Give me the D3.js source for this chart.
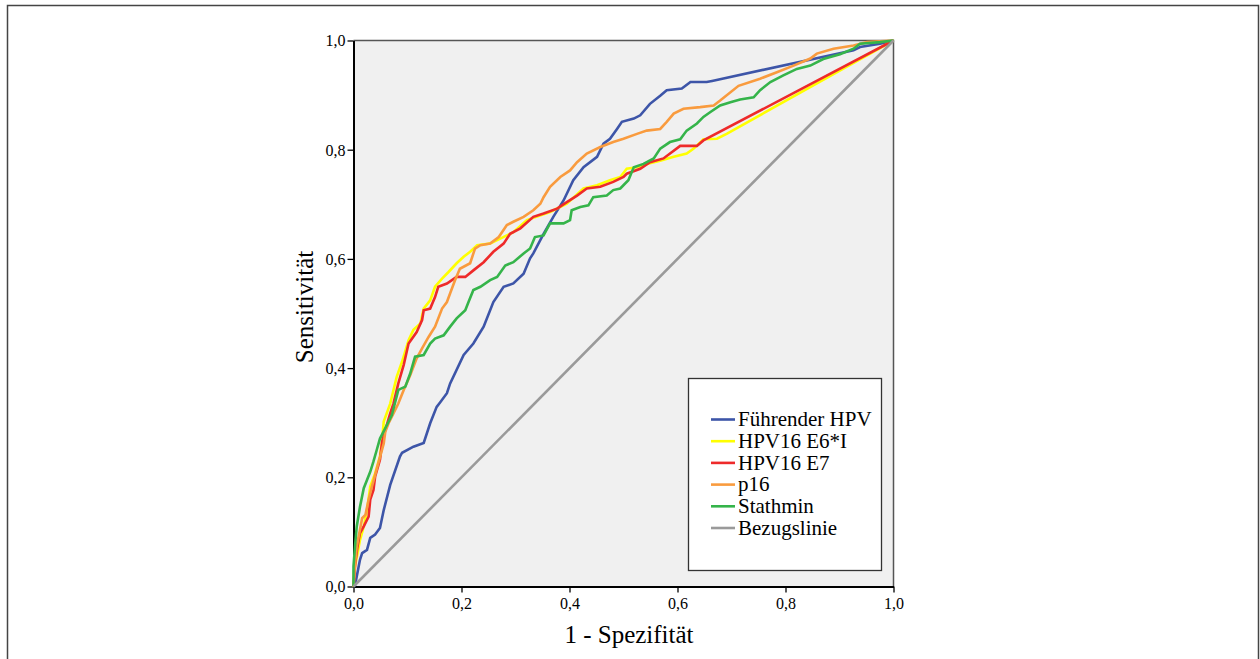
<!DOCTYPE html>
<html>
<head>
<meta charset="utf-8">
<script src="https://cdn.jsdelivr.net/npm/d3@7"></script>
<style>
  body { margin: 0; background: #fff; }
  svg { display: block; font-family: "Liberation Serif", "Times New Roman", serif; }
</style>
</head>
<body>
<svg id="chart" width="1260" height="659"></svg>
<script>
// ROC curves: [1 - Spezifität, Sensitivität]
const fuehrenderHpv = [
  [0, 0], [0.003, 0.003], [0.012, 0.049], [0.016, 0.061], [0.025, 0.067], [0.031, 0.089],
  [0.040, 0.095], [0.049, 0.107], [0.056, 0.140], [0.068, 0.186], [0.086, 0.238], [0.090, 0.245],
  [0.111, 0.256], [0.130, 0.263], [0.142, 0.299], [0.154, 0.329], [0.161, 0.338], [0.173, 0.354],
  [0.179, 0.372], [0.204, 0.424], [0.222, 0.445], [0.241, 0.476], [0.259, 0.521], [0.278, 0.549],
  [0.296, 0.555], [0.315, 0.573], [0.327, 0.601], [0.333, 0.610], [0.352, 0.646], [0.370, 0.677],
  [0.389, 0.707], [0.407, 0.744], [0.426, 0.768], [0.451, 0.787], [0.463, 0.811], [0.475, 0.820],
  [0.488, 0.838], [0.497, 0.851], [0.519, 0.857], [0.531, 0.863], [0.549, 0.884], [0.568, 0.899],
  [0.580, 0.909], [0.608, 0.912], [0.624, 0.924], [0.654, 0.924], [0.664, 0.926], [0.926, 0.982],
  [0.938, 0.988], [0.975, 0.994], [1, 1]
];
const hpv16E6I = [
  [0, 0], [0.001, 0.030], [0.007, 0.058], [0.012, 0.085], [0.019, 0.110], [0.025, 0.140],
  [0.031, 0.183], [0.040, 0.207], [0.049, 0.238], [0.053, 0.268], [0.056, 0.302], [0.068, 0.335],
  [0.080, 0.384], [0.090, 0.412], [0.102, 0.451], [0.111, 0.470], [0.124, 0.482], [0.130, 0.509],
  [0.142, 0.524], [0.151, 0.549], [0.164, 0.564], [0.176, 0.576], [0.191, 0.592], [0.204, 0.604],
  [0.216, 0.613], [0.229, 0.625], [0.253, 0.628], [0.284, 0.643], [0.296, 0.649], [0.321, 0.671],
  [0.364, 0.686], [0.395, 0.701], [0.426, 0.729], [0.451, 0.735], [0.475, 0.744], [0.494, 0.750],
  [0.506, 0.765], [0.525, 0.768], [0.543, 0.774], [0.568, 0.780], [0.593, 0.787], [0.617, 0.793],
  [0.630, 0.802], [0.648, 0.819], [0.673, 0.820], [0.691, 0.829], [1, 1]
];
const hpv16E7 = [
  [0, 0], [0.003, 0.040], [0.007, 0.071], [0.012, 0.098], [0.019, 0.110], [0.028, 0.128],
  [0.031, 0.159], [0.037, 0.177], [0.040, 0.201], [0.049, 0.232], [0.053, 0.265], [0.059, 0.287],
  [0.068, 0.317], [0.074, 0.335], [0.083, 0.372], [0.093, 0.406], [0.102, 0.445], [0.117, 0.466],
  [0.127, 0.488], [0.130, 0.506], [0.142, 0.509], [0.151, 0.530], [0.157, 0.549], [0.173, 0.555],
  [0.191, 0.567], [0.207, 0.567], [0.222, 0.579], [0.241, 0.594], [0.259, 0.613], [0.278, 0.628],
  [0.290, 0.646], [0.309, 0.656], [0.333, 0.677], [0.352, 0.683], [0.377, 0.692], [0.395, 0.704],
  [0.414, 0.716], [0.432, 0.729], [0.457, 0.732], [0.481, 0.741], [0.500, 0.750], [0.506, 0.756],
  [0.531, 0.765], [0.549, 0.777], [0.574, 0.784], [0.605, 0.807], [0.636, 0.807], [0.648, 0.817],
  [1, 1]
];
const p16 = [
  [0, 0], [0.003, 0.043], [0.006, 0.073], [0.012, 0.104], [0.016, 0.125], [0.022, 0.131],
  [0.028, 0.159], [0.034, 0.183], [0.040, 0.204], [0.046, 0.226], [0.056, 0.262], [0.059, 0.284],
  [0.065, 0.299], [0.074, 0.317], [0.083, 0.335], [0.093, 0.360], [0.105, 0.387], [0.117, 0.418],
  [0.127, 0.436], [0.139, 0.457], [0.151, 0.476], [0.164, 0.509], [0.173, 0.521], [0.179, 0.537],
  [0.188, 0.561], [0.197, 0.582], [0.216, 0.592], [0.225, 0.619], [0.235, 0.625], [0.253, 0.628],
  [0.269, 0.640], [0.284, 0.662], [0.296, 0.668], [0.315, 0.677], [0.333, 0.689], [0.346, 0.701],
  [0.352, 0.713], [0.364, 0.732], [0.383, 0.750], [0.401, 0.762], [0.414, 0.777], [0.432, 0.793],
  [0.457, 0.805], [0.481, 0.814], [0.500, 0.820], [0.525, 0.829], [0.543, 0.835], [0.568, 0.838],
  [0.580, 0.851], [0.593, 0.866], [0.611, 0.875], [0.642, 0.878], [0.667, 0.881], [0.679, 0.890],
  [0.713, 0.917], [0.753, 0.930], [0.784, 0.942], [0.815, 0.954], [0.846, 0.967], [0.858, 0.976],
  [0.889, 0.985], [0.926, 0.991], [0.951, 0.997], [1, 1]
];
const stathmin = [
  [0, 0], [0, 0.037], [0.003, 0.076], [0.006, 0.110], [0.012, 0.146], [0.019, 0.180],
  [0.025, 0.195], [0.031, 0.210], [0.037, 0.229], [0.043, 0.250], [0.049, 0.271], [0.062, 0.296],
  [0.071, 0.314], [0.083, 0.360], [0.096, 0.366], [0.105, 0.390], [0.114, 0.421], [0.130, 0.424],
  [0.142, 0.445], [0.151, 0.454], [0.167, 0.460], [0.179, 0.476], [0.191, 0.491], [0.207, 0.506],
  [0.213, 0.521], [0.222, 0.543], [0.235, 0.549], [0.253, 0.561], [0.266, 0.567], [0.281, 0.588],
  [0.296, 0.594], [0.315, 0.610], [0.327, 0.619], [0.336, 0.640], [0.352, 0.643], [0.364, 0.665],
  [0.389, 0.665], [0.401, 0.671], [0.404, 0.689], [0.420, 0.695], [0.435, 0.698], [0.444, 0.713],
  [0.469, 0.716], [0.481, 0.726], [0.494, 0.729], [0.509, 0.744], [0.519, 0.768], [0.537, 0.774],
  [0.556, 0.784], [0.568, 0.802], [0.586, 0.814], [0.605, 0.819], [0.617, 0.835], [0.636, 0.848],
  [0.648, 0.860], [0.661, 0.869], [0.679, 0.881], [0.698, 0.887], [0.716, 0.892], [0.741, 0.896],
  [0.753, 0.909], [0.772, 0.924], [0.796, 0.936], [0.821, 0.948], [0.846, 0.954], [0.870, 0.966],
  [0.901, 0.975], [0.926, 0.985], [0.938, 0.994], [0.975, 0.997], [1, 1]
];
const bezugslinie = [[0, 0], [1, 1]];

const seriesNames = ["Führender HPV", "HPV16 E6*I", "HPV16 E7", "p16", "Stathmin", "Bezugslinie"];
const seriesData = [fuehrenderHpv, hpv16E6I, hpv16E7, p16, stathmin, bezugslinie];
const seriesColors = ["#3d55a8", "#ffff00", "#ee2a2a", "#f99b3e", "#35b44a", "#9a9a9a"];
const tickValues = [0, 0.2, 0.4, 0.6, 0.8, 1.0];

const svg = d3.select("#chart");

// outer frame
svg.append("path")
  .attr("d", "M7.5,670 V5.5 H1258.5 V670")
  .attr("fill", "none")
  .attr("stroke", "#444")
  .attr("stroke-width", 1.5);

const plotLeft = 353.5, plotRight = 893.5, plotTop = 40.5, plotBottom = 586.5;

const x = d3.scaleLinear().domain([0, 1]).range([plotLeft, plotRight]);
const y = d3.scaleLinear().domain([0, 1]).range([plotBottom, plotTop]);

svg.append("rect")
  .attr("x", plotLeft).attr("y", plotTop)
  .attr("width", plotRight - plotLeft).attr("height", plotBottom - plotTop)
  .attr("fill", "#f0f0f0");

// plot frame (top / right)
svg.append("path")
  .attr("d", `M${plotLeft},${plotTop} H${plotRight} V${plotBottom}`)
  .attr("fill", "none")
  .attr("stroke", "#555")
  .attr("stroke-width", 1.5);

const fmt = d => d3.format(".1f")(d).replace(".", ",");

const xAxis = svg.append("g")
  .attr("transform", `translate(0,${plotBottom})`)
  .call(d3.axisBottom(x).tickValues(tickValues).tickFormat(fmt).tickSize(6).tickSizeOuter(0));
const yAxis = svg.append("g")
  .attr("transform", `translate(${plotLeft},0)`)
  .call(d3.axisLeft(y).tickValues(tickValues).tickFormat(fmt).tickSize(6).tickSizeOuter(0));

[xAxis, yAxis].forEach(a => {
  a.select(".domain").attr("stroke", "#000").attr("stroke-width", 2);
  a.selectAll(".tick line").attr("stroke", "#000").attr("stroke-width", 1.3);
  a.selectAll("text")
    .attr("fill", "#000")
    .style("font-family", "'Liberation Serif', serif")
    .style("font-size", "16px");
});
xAxis.selectAll("text").attr("dy", "0.95em").attr("y", 7);
yAxis.selectAll("text").attr("x", -8).attr("dy", "0.34em");

const line = d3.line().x(d => x(d[0])).y(d => y(d[1]));

const curves = svg.append("g");
seriesData.forEach((data, i) => {
  curves.append("path")
    .datum(data)
    .attr("fill", "none")
    .attr("stroke", seriesColors[i])
    .attr("stroke-width", 2.6)
    .attr("stroke-linejoin", "miter")
    .attr("d", line);
});

// axis titles
svg.append("text")
  .attr("x", 629).attr("y", 643)
  .attr("text-anchor", "middle")
  .style("font-size", "25px")
  .text("1 - Spezifität");

svg.append("text")
  .attr("transform", "translate(313,307) rotate(-90)")
  .attr("text-anchor", "middle")
  .style("font-size", "25px")
  .text("Sensitivität");

// legend
const legend = svg.append("g");
legend.append("rect")
  .attr("x", 688.5).attr("y", 378.5)
  .attr("width", 193).attr("height", 192)
  .attr("fill", "#fff")
  .attr("stroke", "#333")
  .attr("stroke-width", 1.3);

const rows = legend.selectAll("g.row")
  .data(seriesNames)
  .join("g")
  .attr("class", "row")
  .attr("transform", (d, i) => `translate(0,${419.5 + i * 21.7})`);

rows.append("line")
  .attr("x1", 711).attr("x2", 735)
  .attr("stroke", (d, i) => seriesColors[i])
  .attr("stroke-width", 2.6);

rows.append("text")
  .attr("x", 738).attr("y", 0)
  .attr("dy", "0.32em")
  .style("font-size", "21px")
  .text(d => d);
</script>
</body>
</html>
